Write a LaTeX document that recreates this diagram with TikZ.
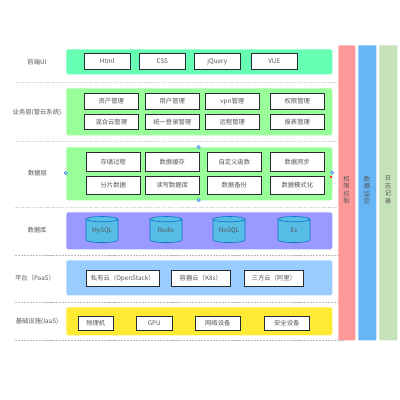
\documentclass[tikz,border=0pt]{standalone}
\usepackage{fontspec}
\setmainfont{Noto Sans CJK SC}
\usetikzlibrary{shapes.geometric}
\definecolor{uiband}{HTML}{66FFB3}
\definecolor{bizband}{HTML}{99FF99}
\definecolor{dbband}{HTML}{9999FF}
\definecolor{paasband}{HTML}{99CCFF}
\definecolor{iaasband}{HTML}{FFEB33}
\definecolor{authbar}{HTML}{FF9999}
\definecolor{monbar}{HTML}{66B5F5}
\definecolor{logbar}{HTML}{C5E2B8}
\definecolor{boxline}{HTML}{262C33}
\definecolor{txt}{HTML}{555555}
\definecolor{sepline}{HTML}{DADADA}
\definecolor{septhin}{HTML}{BDBDBD}
\definecolor{cylfill}{HTML}{56BDE6}
\definecolor{cylline}{HTML}{1673C4}
\definecolor{handle}{HTML}{2F80ED}
\tikzset{
  lab/.style={text=txt, font=\fontsize{4.5}{5.4}\selectfont, inner sep=0pt},
  band/.style={rounded corners=0.4mm, inner sep=0pt, anchor=north west},
  modbox/.style={lab, draw=boxline, fill=white, line width=0.45pt, anchor=north west},
  dbcyl/.style={lab, cylinder, shape border rotate=90, aspect=0.22, draw=cylline, fill=cylfill,
    line width=0.45pt, text width=6mm, align=center, text height=3pt, text depth=1pt,
    minimum width=8mm, minimum height=6.5mm},
  sidebar/.style={rounded corners=0.2mm, inner sep=0pt, anchor=north west},
  sidetext/.style={lab, align=center, text width=3mm},
  sepwide/.style={draw=sepline, line width=0.9pt, dash pattern=on 1.2pt off 0.5pt},
  sepfine/.style={draw=septhin, line width=0.5pt, dash pattern=on 1.5pt off 0.6pt},
  grip/.style={circle, draw=handle, fill=white, line width=0.45pt, minimum size=0.8mm, inner sep=0pt}
}
\begin{document}
\begin{tikzpicture}[x=0.25mm, y=-0.25mm]
  \useasboundingbox (0,0) rectangle (400,400);
  % separators
  \foreach \y in {82.7,141.7,207.7} {
    \draw[sepwide] (15,\y) -- (337,\y);
  }
  \foreach \y/\xe in {255.7/337,302.3/337,340.3/343} {
    \draw[sepfine] (15,\y) -- (\xe,\y);
  }
  % layers
  \foreach \name/\col/\y/\h in {ui/uiband/49/25,biz/bizband/88/47,data/bizband/147/53,db/dbband/212/37,paas/paasband/260/35,iaas/iaasband/307/28} {
    \node[band, fill=\col, minimum width=66.5mm, minimum height=\h*0.25mm] (\name) at (66,\y) {};
  }
  % layer names
  \node[lab] (uiname) at (37,62) {前端UI};
  \node[lab] (bizname) at (37,112) {业务层(管云系统)};
  \node[lab] (dataname) at (37.5,173) {数据层};
  \node[lab] (dbname) at (37,230.5) {数据库};
  \node[lab] (paasname) at (35,278) {平台（PaaS）};
  \node[lab] (iaasname) at (37,321) {基础设施(IaaS)};
  % modules
  \foreach \name/\x/\y/\w/\h/\lab in {
    html/84/53.3/46/15.4/Html, css/139/53.3/46/15.4/CSS, jq/194/53.3/46/15.4/jQuery, vue/251/53.3/46/15.4/VUE,
    asset/84/93.4/54/15.2/资产管理, user/145/93.4/54/15.2/用户管理, vpn/205/93.4/54/15.2/vpn管理, perm/270/93.4/54/15.2/权限管理,
    hybrid/84/114/54/15.2/混合云管理, sso/145/114/54/15.2/统一登录管理, remote/205/114/54/15.2/远程管理, report/270/114/54/15.2/报表管理,
    proc/86/152.3/54/18.4/存储过程, cache/145/152.3/54/18.4/数据缓存, func/207/152.3/54/18.4/自定义函数, sync/270/152.3/54/18.4/数据同步,
    shard/86/176/54/17.7/分片数据, rw/145/176/54/17.7/读写数据库, backup/207/176/54/17.7/数据备份, model/270/176/54/17.7/数据模式化,
    priv/86/270/73/15.7/私有云（OpenStack）, k8s/171/270/59/15.7/容器云（K8s）, third/244/270/59/15.7/三方云（阿里）,
    host/78/316/35/13.5/物理机, gpu/136/316/36/13.5/GPU, net/195/316/45/13.5/网络设备, sec/264/316/45/13.5/安全设备} {
    \node[modbox, minimum width=\w*0.25mm, minimum height=\h*0.25mm] (\name) at (\x,\y) {\lab};
  }
  % databases
  \foreach \name/\x/\lab in {mysql/102/MySQL,redis/166/Redis,nosql/229/NoSQL,es/294/Es} {
    \node[dbcyl] (\name) at (\x,231) {\lab};
  }
  % side bars
  \foreach \name/\col/\x/\w in {auth/authbar/338/17,mon/monbar/358/18,log/logbar/379/18} {
    \node[sidebar, fill=\col, minimum width=\w*0.25mm, minimum height=73.75mm] (\name) at (\x,45) {};
  }
  \node[sidetext] (authname) at (346.5,190) {权\\限\\控\\制};
  \node[sidetext] (monname) at (367,190) {数\\据\\监\\控};
  \node[sidetext] (logname) at (388,190) {日\\志\\记\\录};
  % selection grips
  \foreach \name/\x/\y in {gripw/65.7/173,gripn/198.7/147,grips/198.7/200,gripe/332/172.7} {
    \node[grip] (\name) at (\x,\y) {};
  }
  \node[fill=red!80, inner sep=0pt, minimum size=0.45mm] (gripr) at (330.7,177) {};
\end{tikzpicture}
\end{document}
